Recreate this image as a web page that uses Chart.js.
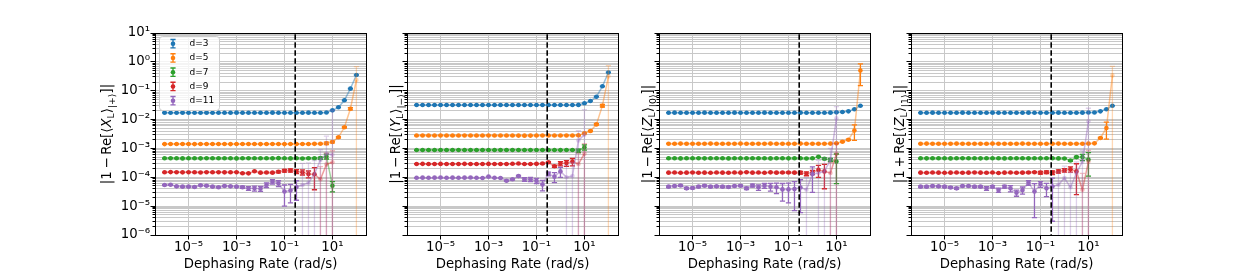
<!DOCTYPE html>
<html>
<head>
<meta charset="utf-8">
<script src="https://cdn.jsdelivr.net/npm/chart.js@4.4.1/dist/chart.umd.min.js"></script>
<style>
  html, body { margin: 0; padding: 0; background: #fff; }
  #fig { position: relative; width: 1246px; height: 277px; overflow: hidden; background: #fff; }
  #fig canvas { position: absolute; top: 0; }
</style>
</head>
<body>
<div id="fig">
  <canvas id="g0" width="320" height="277" style="left:55px"></canvas>
  <canvas id="g1" width="320" height="277" style="left:307px"></canvas>
  <canvas id="g2" width="320" height="277" style="left:559px"></canvas>
  <canvas id="g3" width="320" height="277" style="left:811px"></canvas>
</div>
<script>
// dephasing rates (rad/s), one per point
const rates = [1e-6, 1.78e-6, 3.16e-6, 5.62e-6, 1e-5, 1.78e-5, 3.16e-5, 5.62e-5, 1e-4, 1.78e-4, 3.16e-4,
  5.62e-4, 1e-3, 1.78e-3, 3.16e-3, 5.62e-3, 1e-2, 1.78e-2, 3.16e-2, 5.62e-2, 0.1, 0.178, 0.316, 0.562,
  1, 1.78, 3.16, 5.62, 10, 17.8, 31.6, 56.2, 100];

const seriesNames = ['d=3', 'd=5', 'd=7', 'd=9', 'd=11'];
const colors = ['#1f77b4', '#ff7f0e', '#2ca02c', '#d62728', '#9467bd'];

// panel 1 : |1 - Re[<X_L>_|+>]|
const xD3 = [0.0174, 0.0173, 0.0173, 0.0174, 0.0173, 0.0172, 0.0173, 0.0174, 0.0173, 0.0173,
  0.0172, 0.0173, 0.0174, 0.0173, 0.0173, 0.0172, 0.0173, 0.0173, 0.0174, 0.0173,
  0.0173, 0.0172, 0.0173, 0.0173, 0.0174, 0.0173, 0.0173, 0.0175, 0.0209, 0.0266, 0.0465, 0.118, 0.351];
const xD3Err = [2e-4, 2e-4, 2e-4, 2e-4, 2e-4, 2e-4, 2e-4, 2e-4, 2e-4, 2e-4, 2e-4, 2e-4, 2e-4, 2e-4,
  2e-4, 2e-4, 2e-4, 2e-4, 2e-4, 2e-4, 2e-4, 2e-4, 2e-4, 2e-4, 2e-4, 2e-4, 2e-4, 2e-4,
  3e-4, 4e-4, 7e-4, 1.5e-3, 5e-3];
const xD5 = [1.41e-3, 1.43e-3, 1.42e-3, 1.43e-3, 1.42e-3, 1.41e-3, 1.42e-3, 1.43e-3, 1.42e-3, 1.42e-3,
  1.43e-3, 1.41e-3, 1.42e-3, 1.42e-3, 1.43e-3, 1.42e-3, 1.41e-3, 1.42e-3, 1.43e-3, 1.42e-3,
  1.41e-3, 1.42e-3, 1.42e-3, 1.43e-3, 1.42e-3, 1.44e-3, 1.45e-3, 1.5e-3, 1.67e-3, 2.43e-3, 5.4e-3, 0.0238, 0.235];
const xD5Err = [3e-5, 3e-5, 3e-5, 3e-5, 3e-5, 3e-5, 3e-5, 3e-5, 3e-5, 3e-5, 3e-5, 3e-5, 3e-5, 3e-5,
  3e-5, 3e-5, 3e-5, 3e-5, 3e-5, 3e-5, 3e-5, 3e-5, 3e-5, 3e-5, 3e-5, 4e-5, 5e-5,
  1.5e-4, 1e-4, 1.5e-4, 3e-4, 2e-3, 0.45];
const xD7 = [4.55e-4, 4.58e-4, 4.54e-4, 4.52e-4, 4.56e-4, 4.55e-4, 4.53e-4, 4.57e-4, 4.55e-4, 4.54e-4,
  4.56e-4, 4.55e-4, 4.52e-4, 4.55e-4, 4.57e-4, 4.54e-4, 4.55e-4, 4.56e-4, 4.53e-4, 4.6e-4,
  4.55e-4, 4.52e-4, 4.55e-4, 4.5e-4, 4.55e-4, 4.58e-4, 4.6e-4, 5.3e-4, 5.1e-5];
const xD7Err = [8e-6, 8e-6, 8e-6, 8e-6, 8e-6, 8e-6, 8e-6, 8e-6, 8e-6, 8e-6, 8e-6, 8e-6, 8e-6, 8e-6,
  8e-6, 8e-6, 8e-6, 8e-6, 8e-6, 8e-6, 8e-6, 8e-6, 1e-5, 1e-5, 1e-5, 1e-5, 4e-5, 1e-4, 2e-5];
const xD9 = [1.49e-4, 1.51e-4, 1.5e-4, 1.48e-4, 1.5e-4, 1.49e-4, 1.47e-4, 1.5e-4, 1.49e-4, 1.5e-4,
  1.48e-4, 1.49e-4, 1.5e-4, 1.38e-4, 1.37e-4, 1.62e-4, 1.45e-4, 1.47e-4, 1.45e-4, 1.55e-4,
  1.68e-4, 1.72e-4, 1.6e-4, 1.5e-4, 1.3e-4, 1.27e-4, 8.5e-5, 2.8e-4, 3.3e-4];
const xD9Err = [3e-6, 3e-6, 3e-6, 3e-6, 3e-6, 3e-6, 3e-6, 3e-6, 3e-6, 3e-6, 3e-6, 3e-6, 3e-6,
  4e-6, 4e-6, 4e-6, 4e-6, 4e-6, 6e-6, 1.2e-5, 1.8e-5, 2.2e-5, 2.5e-5, 3e-5, 3.5e-5, 9e-5, 1.5e-4, 4e-4, 5e-4];
const xD11 = [5.4e-5, 5.5e-5, 4.85e-5, 4.73e-5, 4.73e-5, 4.6e-5, 5.26e-5, 5.1e-5, 4.73e-5, 4.5e-5,
  5.0e-5, 4.85e-5, 4.73e-5, 4.5e-5, 4.14e-5, 4.14e-5, 4.03e-5, 5.4e-5, 7.0e-5, 6.2e-5,
  3.2e-5, 3.5e-5, 4.6e-5, 5.4e-5, 6.4e-5, 1.3e-4, 4e-4, 6.5e-4, 6e-4];
const xD11Err = [2e-6, 2e-6, 2e-6, 2e-6, 2e-6, 2e-6, 2e-6, 2e-6, 2e-6, 2e-6, 2e-6, 2e-6, 2e-6,
  4e-6, 6e-6, 8e-6, 8e-6, 1e-5, 1.2e-5, 1.4e-5, 2.2e-5, 2.2e-5, 3e-5, 2.5e-4, 2.5e-4, 2.5e-4, 5e-4, 2e-3, 0.02];

// panel 2 : |1 - Re[<Y_L>_|->]|
const yD3 = [0.0320, 0.0321, 0.0319, 0.0320, 0.0320, 0.0321, 0.0320, 0.0319, 0.0320, 0.0320,
  0.0321, 0.0320, 0.0320, 0.0319, 0.0320, 0.0321, 0.0320, 0.0320, 0.0319, 0.0320,
  0.0320, 0.0321, 0.0320, 0.0319, 0.0320, 0.0321, 0.0320, 0.0322, 0.0366, 0.044, 0.062, 0.142, 0.43];
const yD3Err = [4e-4, 4e-4, 4e-4, 4e-4, 4e-4, 4e-4, 4e-4, 4e-4, 4e-4, 4e-4, 4e-4, 4e-4, 4e-4, 4e-4,
  4e-4, 4e-4, 4e-4, 4e-4, 4e-4, 4e-4, 4e-4, 4e-4, 4e-4, 4e-4, 4e-4, 4e-4, 4e-4, 4e-4,
  5e-4, 6e-4, 1e-3, 2e-3, 8e-3];
const yD5 = [2.8e-3, 2.81e-3, 2.79e-3, 2.8e-3, 2.82e-3, 2.8e-3, 2.79e-3, 2.8e-3, 2.81e-3, 2.8e-3,
  2.79e-3, 2.8e-3, 2.81e-3, 2.8e-3, 2.8e-3, 2.79e-3, 2.8e-3, 2.78e-3, 2.77e-3, 2.78e-3,
  2.8e-3, 2.81e-3, 2.8e-3, 2.79e-3, 2.8e-3, 2.81e-3, 2.8e-3, 2.84e-3, 3.33e-3, 4.0e-3, 6.8e-3, 0.0303, 0.315];
const yD5Err = [5e-5, 5e-5, 5e-5, 5e-5, 5e-5, 5e-5, 5e-5, 5e-5, 5e-5, 5e-5, 5e-5, 5e-5, 5e-5, 5e-5,
  5e-5, 5e-5, 5e-5, 5e-5, 5e-5, 5e-5, 5e-5, 5e-5, 5e-5, 5e-5, 5e-5, 5e-5, 5e-5,
  1e-4, 1.5e-4, 2e-4, 4e-4, 3e-3, 0.43];
const yD7 = [8.8e-4, 8.82e-4, 8.78e-4, 8.8e-4, 8.81e-4, 8.79e-4, 8.8e-4, 8.83e-4, 8.8e-4, 8.78e-4,
  8.8e-4, 8.81e-4, 8.8e-4, 8.79e-4, 8.82e-4, 8.8e-4, 8.85e-4, 8.8e-4, 8.78e-4, 8.8e-4,
  8.82e-4, 8.8e-4, 8.79e-4, 8.8e-4, 8.76e-4, 8.82e-4, 8.8e-4, 8.3e-4, 1.1e-3];
const yD7Err = [1.5e-5, 1.5e-5, 1.5e-5, 1.5e-5, 1.5e-5, 1.5e-5, 1.5e-5, 1.5e-5, 1.5e-5, 1.5e-5,
  1.5e-5, 1.5e-5, 1.5e-5, 1.5e-5, 1.5e-5, 1.5e-5, 1.5e-5, 1.5e-5, 1.5e-5, 1.5e-5,
  1.5e-5, 1.5e-5, 1.5e-5, 1.5e-5, 1.5e-5, 1.5e-5, 3e-5, 1.2e-4, 2.2e-4];
const yD9 = [2.9e-4, 2.92e-4, 2.88e-4, 2.9e-4, 2.91e-4, 2.9e-4, 2.89e-4, 2.9e-4, 2.92e-4, 2.9e-4,
  2.88e-4, 2.9e-4, 2.91e-4, 2.9e-4, 2.89e-4, 2.9e-4, 2.93e-4, 3.0e-4, 2.88e-4, 2.9e-4,
  2.92e-4, 3.0e-4, 3.3e-4, 2.4e-4, 3.0e-4, 3.1e-4, 3.5e-4, 2.9e-4, 6.6e-4];
const yD9Err = [5e-6, 5e-6, 5e-6, 5e-6, 5e-6, 5e-6, 5e-6, 5e-6, 5e-6, 5e-6, 5e-6, 5e-6, 5e-6, 5e-6,
  5e-6, 5e-6, 5e-6, 5e-6, 8e-6, 8e-6, 8e-6, 1.2e-5, 1.5e-5, 2e-5, 5e-5, 7e-5, 1e-4, 4e-4, 8e-4];
const yD11 = [9.6e-5, 9.7e-5, 9.6e-5, 9.7e-5, 9.8e-5, 9.6e-5, 9.7e-5, 9.6e-5, 9.7e-5, 9.8e-5,
  9.6e-5, 9.5e-5, 1.05e-4, 9.6e-5, 9.4e-5, 7.6e-5, 8.5e-5, 1.1e-4, 8.5e-5, 8.5e-5,
  7.6e-5, 5.6e-5, 1.32e-4, 1.05e-4, 1.6e-4, 1.0e-4, 1.1e-4, 1.9e-3, 3.0e-3];
const yD11Err = [2e-6, 2e-6, 2e-6, 2e-6, 2e-6, 2e-6, 2e-6, 2e-6, 2e-6, 2e-6, 2e-6, 2e-6, 2e-6, 2e-6,
  3e-6, 4e-6, 5e-6, 6e-6, 1.2e-5, 1.4e-5, 1.5e-5, 2.2e-5, 2e-5, 4e-5, 6e-5, 1.6e-4, 2.2e-4, 2.2e-3, 0.019];

// panel 3 : |1 - Re[<Z_L>_|0>]|
const z0D3 = [0.0173, 0.0174, 0.0173, 0.0172, 0.0173, 0.0173, 0.0174, 0.0173, 0.0172, 0.0173,
  0.0173, 0.0174, 0.0173, 0.0173, 0.0172, 0.0173, 0.0174, 0.0173, 0.0173, 0.0172,
  0.0173, 0.0173, 0.0174, 0.0173, 0.0172, 0.0173, 0.0173, 0.0174, 0.0178, 0.0183, 0.0193, 0.0227, 0.0303];
const z0D3Err = [2e-4, 2e-4, 2e-4, 2e-4, 2e-4, 2e-4, 2e-4, 2e-4, 2e-4, 2e-4, 2e-4, 2e-4, 2e-4, 2e-4,
  2e-4, 2e-4, 2e-4, 2e-4, 2e-4, 2e-4, 2e-4, 2e-4, 2e-4, 2e-4, 2e-4, 2e-4, 2e-4, 2e-4,
  2e-4, 2e-4, 2e-4, 3e-4, 3e-4];
const z0D5 = [1.46e-3, 1.45e-3, 1.47e-3, 1.46e-3, 1.46e-3, 1.45e-3, 1.46e-3, 1.47e-3, 1.46e-3, 1.45e-3,
  1.46e-3, 1.46e-3, 1.47e-3, 1.46e-3, 1.45e-3, 1.46e-3, 1.46e-3, 1.47e-3, 1.46e-3, 1.46e-3,
  1.45e-3, 1.46e-3, 1.47e-3, 1.46e-3, 1.46e-3, 1.45e-3, 1.46e-3, 1.47e-3, 1.5e-3, 1.71e-3, 2.0e-3, 4.2e-3, 0.5];
const z0D5Err = [3e-5, 3e-5, 3e-5, 3e-5, 3e-5, 3e-5, 3e-5, 3e-5, 3e-5, 3e-5, 3e-5, 3e-5, 3e-5, 3e-5,
  3e-5, 3e-5, 3e-5, 3e-5, 3e-5, 3e-5, 3e-5, 3e-5, 3e-5, 3e-5, 3e-5, 3e-5, 3e-5, 3e-5,
  4e-5, 6e-5, 1e-4, 2.3e-3, 0.35];
const z0D7 = [4.54e-4, 4.56e-4, 4.52e-4, 4.55e-4, 4.54e-4, 4.57e-4, 4.53e-4, 4.54e-4, 4.56e-4, 4.55e-4,
  4.52e-4, 4.54e-4, 4.55e-4, 4.53e-4, 4.56e-4, 4.54e-4, 4.55e-4, 4.52e-4, 4.54e-4, 4.56e-4,
  4.53e-4, 4.55e-4, 4.54e-4, 4.5e-4, 4.56e-4, 5.1e-4, 4.4e-4, 4.0e-4, 3.5e-4];
const z0D7Err = [8e-6, 8e-6, 8e-6, 8e-6, 8e-6, 8e-6, 8e-6, 8e-6, 8e-6, 8e-6, 8e-6, 8e-6, 8e-6, 8e-6,
  8e-6, 8e-6, 8e-6, 8e-6, 8e-6, 8e-6, 8e-6, 8e-6, 8e-6, 8e-6, 8e-6, 2e-5, 3e-5, 5e-5, 2.9e-4];
const z0D9 = [1.45e-4, 1.46e-4, 1.43e-4, 1.45e-4, 1.47e-4, 1.44e-4, 1.45e-4, 1.43e-4, 1.46e-4, 1.45e-4,
  1.44e-4, 1.46e-4, 1.45e-4, 1.5e-4, 1.45e-4, 1.46e-4, 1.43e-4, 1.48e-4, 1.45e-4, 1.46e-4,
  1.47e-4, 1.45e-4, 1.45e-4, 1.33e-4, 1.49e-4, 1.8e-4, 1.6e-4, 1.4e-4, 6.5e-4];
const z0D9Err = [3e-6, 3e-6, 3e-6, 3e-6, 3e-6, 3e-6, 3e-6, 3e-6, 3e-6, 3e-6, 3e-6, 3e-6, 3e-6, 3e-6,
  3e-6, 3e-6, 3e-6, 3e-6, 6e-6, 6e-6, 6e-6, 6e-6, 1.5e-5, 2e-5, 2.5e-5, 8e-5, 1.2e-4, 1.8e-4, 8e-4];
const z0D11 = [4.73e-5, 4.97e-5, 5.2e-5, 4.14e-5, 4.25e-5, 4.73e-5, 5.1e-5, 4.73e-5, 4.85e-5, 4.73e-5,
  4.6e-5, 4.97e-5, 5.1e-5, 4.14e-5, 5.2e-5, 4.5e-5, 5.1e-5, 4.73e-5, 4.5e-5, 3.8e-5,
  3.8e-5, 3.9e-5, 4.4e-5, 3.7e-5, 1.3e-4, 1.4e-4, 1.6e-4, 4e-4, 0.011];
const z0D11Err = [3e-6, 3e-6, 3e-6, 3e-6, 3e-6, 3e-6, 3e-6, 3e-6, 3e-6, 3e-6, 3e-6, 3e-6, 3e-6,
  4e-6, 6e-6, 1e-5, 1e-5, 1.4e-5, 1.8e-5, 2.3e-5, 2.5e-5, 3.2e-5, 3.8e-5, 6e-5, 1.0e-4, 2.5e-4, 3e-4, 6e-4, 0.017];

// panel 4 : |1 + Re[<Z_L>_|1>]|
const z1D3 = [0.0173, 0.0173, 0.0174, 0.0173, 0.0172, 0.0173, 0.0173, 0.0174, 0.0173, 0.0173,
  0.0172, 0.0173, 0.0174, 0.0173, 0.0173, 0.0172, 0.0173, 0.0173, 0.0174, 0.0173,
  0.0173, 0.0172, 0.0173, 0.0174, 0.0173, 0.0173, 0.0172, 0.0174, 0.0175, 0.0176, 0.0193, 0.0227, 0.0303];
const z1D3Err = [2e-4, 2e-4, 2e-4, 2e-4, 2e-4, 2e-4, 2e-4, 2e-4, 2e-4, 2e-4, 2e-4, 2e-4, 2e-4, 2e-4,
  2e-4, 2e-4, 2e-4, 2e-4, 2e-4, 2e-4, 2e-4, 2e-4, 2e-4, 2e-4, 2e-4, 2e-4, 2e-4, 2e-4,
  2e-4, 2e-4, 2e-4, 3e-4, 3e-4];
const z1D5 = [1.46e-3, 1.47e-3, 1.46e-3, 1.45e-3, 1.46e-3, 1.46e-3, 1.47e-3, 1.46e-3, 1.45e-3, 1.46e-3,
  1.46e-3, 1.45e-3, 1.47e-3, 1.46e-3, 1.46e-3, 1.45e-3, 1.46e-3, 1.47e-3, 1.46e-3, 1.46e-3,
  1.45e-3, 1.46e-3, 1.46e-3, 1.47e-3, 1.46e-3, 1.45e-3, 1.46e-3, 1.46e-3, 1.47e-3, 1.5e-3, 2.3e-3, 5.1e-3, 0.34];
const z1D5Err = [3e-5, 3e-5, 3e-5, 3e-5, 3e-5, 3e-5, 3e-5, 3e-5, 3e-5, 3e-5, 3e-5, 3e-5, 3e-5, 3e-5,
  3e-5, 3e-5, 3e-5, 3e-5, 3e-5, 3e-5, 3e-5, 3e-5, 3e-5, 3e-5, 3e-5, 3e-5, 3e-5, 3e-5, 3e-5, 3e-5,
  1e-4, 3e-3, 0.36];
const z1D7 = [4.55e-4, 4.53e-4, 4.56e-4, 4.54e-4, 4.55e-4, 4.52e-4, 4.54e-4, 4.57e-4, 4.54e-4, 4.55e-4,
  4.53e-4, 4.56e-4, 4.54e-4, 4.55e-4, 4.52e-4, 4.54e-4, 4.56e-4, 4.55e-4, 4.53e-4, 4.54e-4,
  4.56e-4, 4.54e-4, 4.55e-4, 4.52e-4, 4.5e-4, 3.8e-4, 5.0e-4, 5.0e-4, 4.1e-4];
const z1D7Err = [8e-6, 8e-6, 8e-6, 8e-6, 8e-6, 8e-6, 8e-6, 8e-6, 8e-6, 8e-6, 8e-6, 8e-6, 8e-6, 8e-6,
  8e-6, 8e-6, 8e-6, 8e-6, 8e-6, 8e-6, 8e-6, 8e-6, 8e-6, 8e-6, 1e-5, 2e-5, 3e-5, 1.2e-4, 3e-4];
const z1D9 = [1.45e-4, 1.44e-4, 1.46e-4, 1.45e-4, 1.43e-4, 1.45e-4, 1.46e-4, 1.44e-4, 1.45e-4, 1.47e-4,
  1.45e-4, 1.44e-4, 1.46e-4, 1.4e-4, 1.45e-4, 1.46e-4, 1.44e-4, 1.45e-4, 1.47e-4, 1.5e-4,
  1.45e-4, 1.5e-4, 1.45e-4, 1.6e-4, 1.75e-4, 1.9e-4, 1.6e-4, 3.7e-5, 3.5e-4];
const z1D9Err = [3e-6, 3e-6, 3e-6, 3e-6, 3e-6, 3e-6, 3e-6, 3e-6, 3e-6, 3e-6, 3e-6, 3e-6, 3e-6, 3e-6,
  3e-6, 3e-6, 3e-6, 6e-6, 6e-6, 6e-6, 1.5e-5, 1.5e-5, 2e-5, 2e-5, 2.5e-5, 4e-5, 1.35e-4, 1e-4, 5e-4];
const z1D11 = [4.73e-5, 4.73e-5, 4.97e-5, 4.85e-5, 4.73e-5, 4.4e-5, 4.14e-5, 4.97e-5, 4.97e-5, 4.73e-5,
  4.73e-5, 4.14e-5, 4.73e-5, 3.6e-5, 4.73e-5, 4.14e-5, 2.9e-5, 3.6e-5, 6.5e-5, 3.2e-5,
  5.8e-5, 4.14e-5, 4.8e-5, 5.5e-5, 9.4e-5, 4.5e-5, 1.4e-4, 3.5e-4, 8.7e-3];
const z1D11Err = [3e-6, 3e-6, 3e-6, 3e-6, 3e-6, 3e-6, 3e-6, 3e-6, 3e-6, 3e-6, 3e-6,
  6e-6, 4e-6, 6e-6, 5e-6, 1e-5, 7e-6, 1e-5, 1.2e-5, 2.8e-5, 1.3e-5, 2e-5, 4.5e-5, 1e-4, 1.5e-4, 1e-4, 2e-4, 5e-4, 0.016];

// axis ticks and the vertical marker
const xTickValues = [1e-5, 1e-3, 1e-1, 1e1];
const xTickLabels = ['10⁻⁵', '10⁻³', '10⁻¹', '10¹'];
const yDecades = [1e-6, 1e-5, 1e-4, 1e-3, 1e-2, 1e-1, 1, 10];
const yTickLabels = ['10⁻⁶', '10⁻⁵', '10⁻⁴', '10⁻³', '10⁻²', '10⁻¹', '10⁰', '10¹'];
const dephasingMark = 0.28;

const panels = [
  { id: 'g0', values: [xD3, xD5, xD7, xD9, xD11], errors: [xD3Err, xD5Err, xD7Err, xD9Err, xD11Err],
    title: [['|1\u2009−\u2009Re[⟨', ''], ['X', 'i'], ['L', 's', 0.22], ['⟩', ''], ['|+⟩', 's', 0.32], [']|', '']],
    titleGap: 49, yLabels: true, legend: true },
  { id: 'g1', values: [yD3, yD5, yD7, yD9, yD11], errors: [yD3Err, yD5Err, yD7Err, yD9Err, yD11Err],
    title: [['|1\u2009−\u2009Re[⟨', ''], ['Y', 'i'], ['L', 's', 0.22], ['⟩', ''], ['|−⟩', 's', 0.32], [']|', '']],
    titleGap: 12, yLabels: false, legend: false },
  { id: 'g2', values: [z0D3, z0D5, z0D7, z0D9, z0D11], errors: [z0D3Err, z0D5Err, z0D7Err, z0D9Err, z0D11Err],
    title: [['|1\u2009−\u2009Re[⟨', ''], ['Z', 'i'], ['L', 's', 0.22], ['⟩', ''], ['|0⟩', 's', 0.32], [']|', '']],
    titleGap: 12, yLabels: false, legend: false },
  { id: 'g3', values: [z1D3, z1D5, z1D7, z1D9, z1D11], errors: [z1D3Err, z1D5Err, z1D7Err, z1D9Err, z1D11Err],
    title: [['|1\u2009+\u2009Re[⟨', ''], ['Z', 'i'], ['L', 's', 0.22], ['⟩', ''], ['|1⟩', 's', 0.32], [']|', '']],
    titleGap: 12, yLabels: false, legend: false }
];

Chart.defaults.font.family = '"DejaVu Sans", sans-serif';
Chart.defaults.color = '#000';
const fontSize = 13.3;
const gridColor = '#c8c8c8';

function fade(hex, a) {
  const n = parseInt(hex.slice(1), 16);
  return `rgba(${n >> 16}, ${(n >> 8) & 255}, ${n & 255}, ${a})`;
}
function crisp(p) {
  return Math.round(p - 0.5) + 0.5;
}

// y ticks: every decade plus 2..9 inside each decade
const yTicks = [];
yDecades.forEach((d, i) => {
  yTicks.push({ value: d, txt: yTickLabels[i], big: true });
  if (i < yDecades.length - 1) {
    for (let m = 2; m < 10; m++) yTicks.push({ value: m * d, txt: '', big: false });
  }
});

// error bars, drawn right after each series
const errorBars = {
  id: 'errorBars',
  afterDatasetDraw(chart, args) {
    const ds = chart.data.datasets[args.index];
    if (!ds.errors) return;
    const { ctx, chartArea: a, scales: { x, y } } = chart;
    const cap = 2.6;
    ctx.save();
    ctx.beginPath();
    ctx.rect(a.left, a.top, a.right - a.left, a.bottom - a.top);
    ctx.clip();
    ctx.lineWidth = 1.3;
    ds.data.forEach((p, i) => {
      const e = ds.errors[i];
      const low = p.y - e;
      const px = x.getPixelForValue(p.x);
      const top = y.getPixelForValue(p.y + e);
      const bottom = low > 0 ? y.getPixelForValue(low) : a.bottom + 10;
      ctx.strokeStyle = low > 0 ? ds.solid : ds.faded;
      ctx.beginPath();
      ctx.moveTo(px, top);
      ctx.lineTo(px, bottom);
      ctx.moveTo(px - cap, top);
      ctx.lineTo(px + cap, top);
      if (low > 0) {
        ctx.moveTo(px - cap, bottom);
        ctx.lineTo(px + cap, bottom);
      }
      ctx.stroke();
    });
    ctx.restore();
  }
};

// box round the axes plus outward tick marks
const frame = {
  id: 'frame',
  afterDatasetsDraw(chart) {
    const { ctx, chartArea: a, scales: { x, y } } = chart;
    ctx.save();
    ctx.strokeStyle = '#000';
    ctx.lineWidth = 1;
    ctx.beginPath();
    y.ticks.forEach(t => {
      const py = crisp(y.getPixelForValue(t.value));
      ctx.moveTo(a.left, py);
      ctx.lineTo(a.left - (t.big ? 4.5 : 2.5), py);
    });
    x.ticks.forEach(t => {
      const px = crisp(x.getPixelForValue(t.value));
      ctx.moveTo(px, a.bottom);
      ctx.lineTo(px, a.bottom + 4.5);
    });
    ctx.stroke();
    ctx.strokeRect(a.left + 0.5, a.top + 0.5, a.right - a.left, a.bottom - a.top);
    ctx.restore();
  }
};

// legend with errorbar handles, inside the first axes
const legendBox = {
  id: 'legendBox',
  afterDraw(chart) {
    const { ctx, chartArea: a } = chart;
    ctx.save();
    ctx.beginPath();
    ctx.roundRect(a.left + 4.5, a.top + 3.5, 60, 74, 3);
    ctx.fillStyle = 'rgba(255, 255, 255, 0.8)';
    ctx.fill();
    ctx.strokeStyle = '#cccccc';
    ctx.lineWidth = 1;
    ctx.stroke();
    ctx.font = '9px "DejaVu Sans"';
    ctx.textBaseline = 'middle';
    seriesNames.forEach((name, i) => {
      const cx = a.left + 18;
      const cy = a.top + 10.7 + 14.25 * i;
      ctx.strokeStyle = colors[i];
      ctx.lineWidth = 1.3;
      ctx.beginPath();
      ctx.moveTo(cx, cy - 4.2);
      ctx.lineTo(cx, cy + 4.2);
      ctx.moveTo(cx - 2.6, cy - 4.2);
      ctx.lineTo(cx + 2.6, cy - 4.2);
      ctx.moveTo(cx - 2.6, cy + 4.2);
      ctx.lineTo(cx + 2.6, cy + 4.2);
      ctx.stroke();
      ctx.fillStyle = colors[i];
      ctx.beginPath();
      ctx.arc(cx, cy, 2.3, 0, 2 * Math.PI);
      ctx.fill();
      ctx.fillStyle = '#000';
      ctx.fillText(name, a.left + 34.5, cy);
    });
    ctx.restore();
  }
};

// rotated y title with italic letter and subscripts
function yTitle(parts, gap) {
  return {
    id: 'yTitle',
    afterDraw(chart) {
      const { ctx, chartArea: a } = chart;
      const fontFor = k => (k === 'i' ? 'italic ' : '') + (k === 's' ? fontSize * 0.7 : fontSize) + 'px "DejaVu Sans"';
      ctx.save();
      ctx.translate(a.left - gap, (a.top + a.bottom) / 2);
      ctx.rotate(-Math.PI / 2);
      ctx.fillStyle = '#000';
      ctx.textBaseline = 'alphabetic';
      let total = 0;
      parts.forEach(([t, k]) => { ctx.font = fontFor(k); total += ctx.measureText(t).width; });
      let pos = -total / 2;
      parts.forEach(([t, k, drop]) => {
        ctx.font = fontFor(k);
        ctx.fillText(t, pos, fontSize * 0.36 + (drop || 0) * fontSize);
        pos += ctx.measureText(t).width;
      });
      ctx.restore();
    }
  };
}

panels.forEach(p => {
  const datasets = p.values.map((vals, s) => ({
    label: seriesNames[s],
    data: vals.map((v, i) => ({ x: rates[i], y: v })),
    errors: p.errors[s],
    solid: colors[s],
    faded: fade(colors[s], 0.3),
    borderColor: fade(colors[s], 0.45),
    borderWidth: 1.5,
    pointRadius: 2.3,
    pointHoverRadius: 2.3,
    pointBorderWidth: 0,
    pointBackgroundColor: vals.map((v, i) => v > p.errors[s][i] ? colors[s] : fade(colors[s], 0.3)),
    tension: 0,
    order: 5 - s
  }));
  datasets.push({
    label: 'mark',
    data: [{ x: dephasingMark, y: 1e-7 }, { x: dephasingMark, y: 100 }],
    borderColor: '#000',
    borderWidth: 1.6,
    borderDash: [5.5, 2.5],
    pointRadius: 0,
    order: 0
  });

  const plugins = [errorBars, frame, yTitle(p.title, p.titleGap)];
  if (p.legend) plugins.push(legendBox);

  new Chart(document.getElementById(p.id), {
    type: 'line',
    data: { datasets },
    plugins,
    options: {
      responsive: false,
      animation: false,
      devicePixelRatio: 1,
      events: [],
      layout: { padding: { left: 0, top: 33, right: 9, bottom: 0 } },
      plugins: { legend: { display: false }, tooltip: { enabled: false } },
      scales: {
        x: {
          type: 'logarithmic',
          min: Math.pow(10, -6.4),
          max: Math.pow(10, 2.4),
          afterBuildTicks: s => { s.ticks = xTickValues.map(v => ({ value: v })); },
          afterFit: s => { s.height = 42; },
          ticks: { autoSkip: false, maxRotation: 0, padding: 4.5, font: { size: fontSize },
            callback: (v, i) => xTickLabels[i] },
          grid: { color: gridColor, lineWidth: 1, drawTicks: false },
          border: { display: false },
          title: { display: true, text: 'Dephasing Rate (rad/s)', font: { size: fontSize },
            padding: { top: 0, bottom: 4.6 } }
        },
        y: {
          type: 'logarithmic',
          min: 1e-6,
          max: 10,
          afterBuildTicks: s => { s.ticks = yTicks.map(t => ({ ...t })); },
          afterFit: s => { s.width = 100; },
          ticks: { autoSkip: false, padding: 5, font: { size: fontSize },
            callback: (v, i, ts) => p.yLabels ? ts[i].txt : '' },
          grid: { color: gridColor, lineWidth: 1, drawTicks: false },
          border: { display: false }
        }
      }
    }
  });
});
</script>
</body>
</html>
